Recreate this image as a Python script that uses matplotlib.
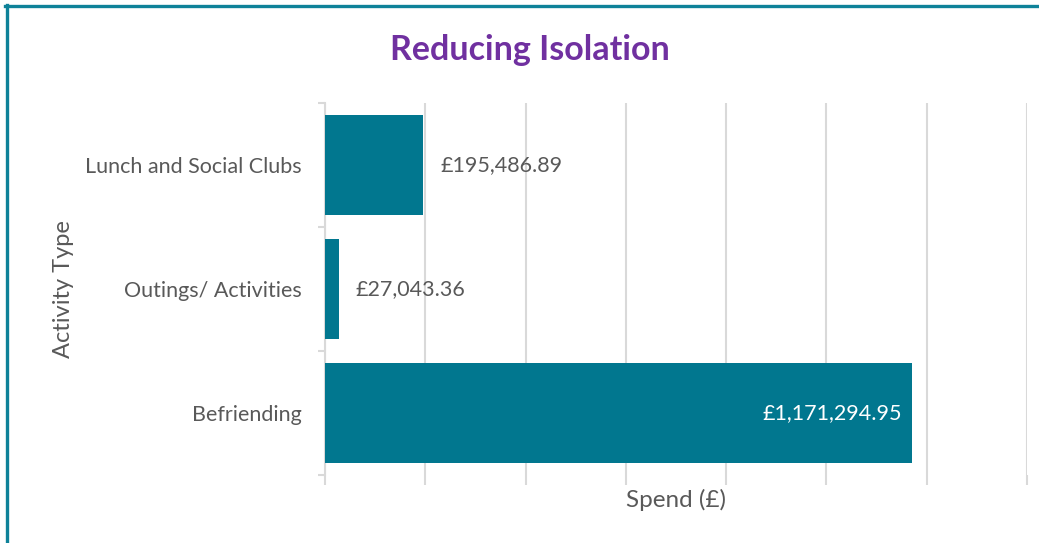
import matplotlib.pyplot as plt
from matplotlib.lines import Line2D

activities = ["Befriending", "Outings/ Activities", "Lunch and Social Clubs"]
spend = [1171294.95, 27043.36, 195486.89]
labels = ["£1,171,294.95", "£27,043.36", "£195,486.89"]

plt.rcParams['font.family'] = ['Lato', 'DejaVu Sans']

W, H = 1039, 543
fig = plt.figure(figsize=(W / 100, H / 100), dpi=100)
ax = fig.add_axes([325 / W, 1 - 475 / H, (1027 - 325) / W, (475 - 103) / H])

bar_col = "#01778F"
grey = "#595959"

ax.barh(range(len(activities)), spend, height=0.8, color=bar_col, zorder=3)
ax.set_xlim(0, 1400000)
ax.set_ylim(-0.5, len(activities) - 0.5)

# data labels
for i, (v, t) in enumerate(zip(spend, labels)):
    if v > 700000:
        ax.text(v - 10 * 1400000 / 702, i, t, ha="right", va="center", color="white", fontsize=15.5, zorder=4)
    else:
        ax.text(v + 17 * 1400000 / 702, i, t, ha="left", va="center", color=grey, fontsize=15.5, zorder=4)

# gridlines
ax.set_xticks(range(0, 1400001, 200000))
ax.xaxis.grid(True, color="#d9d9d9", linewidth=1.5, zorder=0)
ax.tick_params(axis="x", length=7, width=1.5, color="#d9d9d9", labelbottom=False)

# category axis
ax.set_yticks(range(len(activities)))
ax.set_yticklabels(activities, fontsize=15.5, color=grey)
ax.set_yticks([-0.5, 0.5, 1.5, 2.5], minor=True)
ax.tick_params(axis="y", which="major", length=0, pad=17)
ax.tick_params(axis="y", which="minor", length=5, width=1.5, color="#d9d9d9")

for s in ["top", "right", "bottom"]:
    ax.spines[s].set_visible(False)
ax.spines["left"].set_color("#d9d9d9")
ax.spines["left"].set_linewidth(1.5)

ax.set_xlabel("Spend (£)", fontsize=17.5, color=grey, labelpad=3)
ax.set_ylabel("Activity Type", fontsize=17, color=grey, labelpad=8)

fig.text(530 / W, 1 - 50 / H, "Reducing Isolation", ha="center", va="center",
         fontsize=24.5, fontweight="bold", color="#7030A0")

# chart border (left and top visible)
border = "#0E8299"
fig.add_artist(Line2D([6.5 / W, 6.5 / W], [0, 1 - 5 / H], transform=fig.transFigure, color=border, linewidth=2.4))
fig.add_artist(Line2D([5 / W, 1], [1 - 6 / H, 1 - 6 / H], transform=fig.transFigure, color=border, linewidth=2.4))

fig.savefig("out.png", dpi=100)
